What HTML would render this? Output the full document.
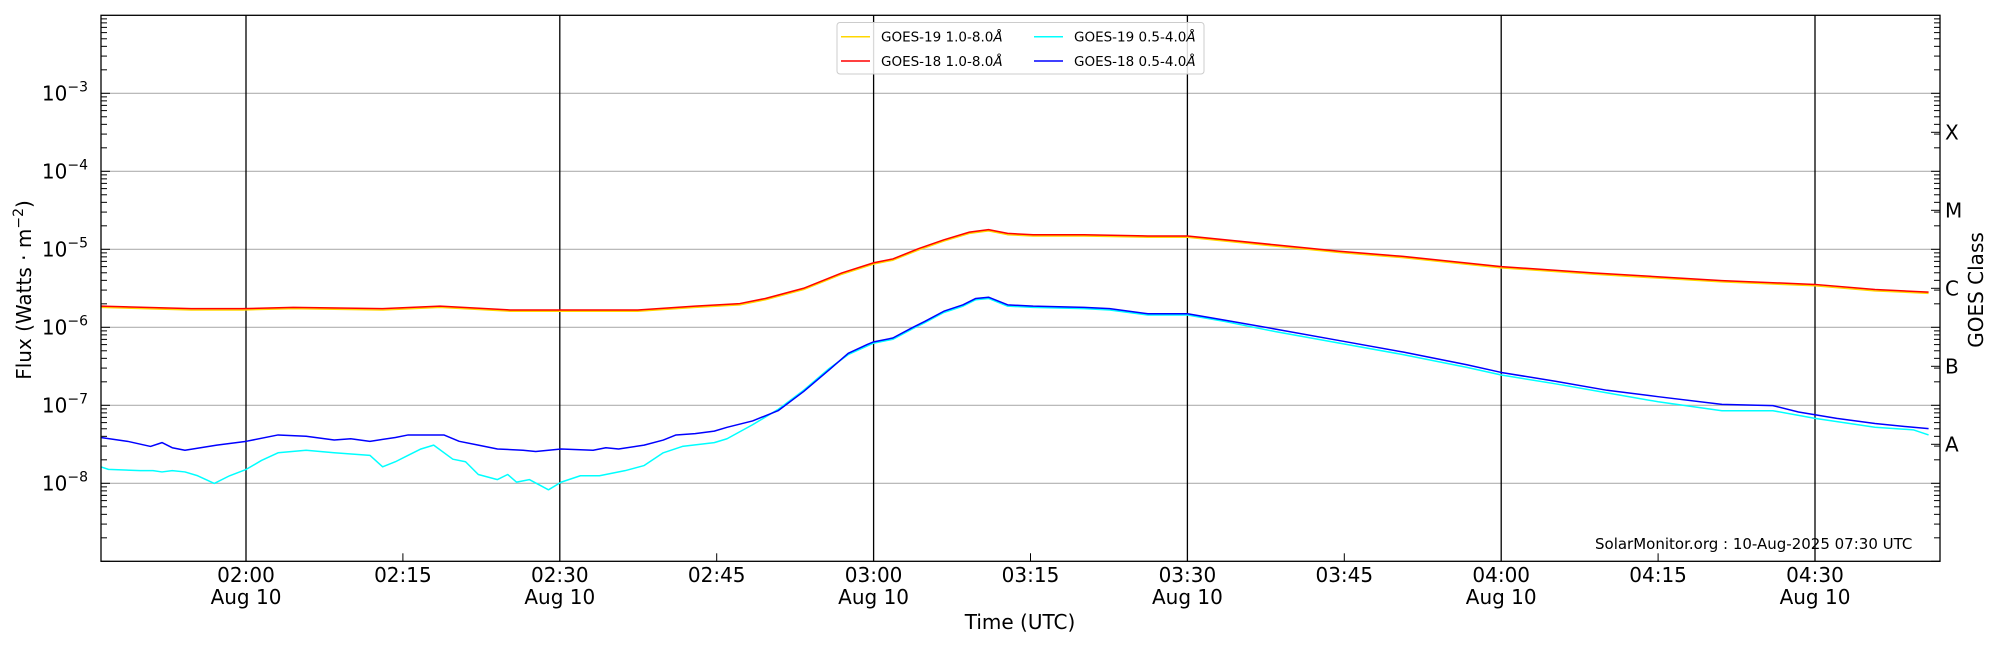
<!DOCTYPE html>
<html><head><meta charset="utf-8"><style>
html,body{margin:0;padding:0;background:#fff;}
svg{display:block;font-family:"DejaVu Sans","Liberation Sans",sans-serif;}
</style></head><body>
<svg id="s" width="2000" height="650" viewBox="0 0 2000 650" xmlns="http://www.w3.org/2000/svg">
<g id="grid"></g>
<g transform="scale(1.27551)" fill="none" stroke-width="1.5" stroke-linejoin="round">
<polyline vector-effect="non-scaling-stroke" stroke="#ffd700" points="79,241 150,243 190,243 230,242 300,243 345,241 400,244 440,244 500,244 545,241 580,239 600,235 630,227 660,215 685,207 700,204 720,196 740,189 760,183 775,181 790,184 810,185 850,185 900,186 931,186 1000,193 1050,198 1100,202 1177,210 1250,215 1350,221 1423,224 1470,228 1512,230"/>
<polyline vector-effect="non-scaling-stroke" stroke="#ff0000" points="79,240 150,242 190,242 230,241 300,242 345,240 400,243 440,243 500,243 545,240 580,238 600,234 630,226 660,214 685,206 700,203 720,195 740,188 760,182 775,180 790,183 810,184 850,184 900,185 931,185 1000,192 1050,197 1100,201 1177,209 1250,214 1350,220 1423,223 1470,227 1512,229"/>
<polyline vector-effect="non-scaling-stroke" stroke="#00ffff" points="79,366 85,368 110,369 120,369 127,370 135,369 145,370 155,373 168,379 180,373 193,368 205,361 218,355 240,353 262,355 290,357 300,366 310,362 320,357 330,352 340,349 355,360 365,362 375,372 390,376 398,372 405,378 415,376 430,384 440,378 455,373 470,373 490,369 505,365 520,355 535,350 560,347 570,344 590,333 610,321 630,306 650,289 665,278 685,269 700,266 715,258 725,253 740,245 755,240 765,235 775,234 790,240 810,241 850,242 870,243 900,247 931,247 960,252 1000,260 1050,269 1100,278 1150,288 1177,294 1220,301 1260,308 1300,315 1350,322 1390,322 1423,328 1470,335 1500,337 1512,341"/>
<polyline vector-effect="non-scaling-stroke" stroke="#0000ff" points="79,343 100,346 118,350 127,347 135,351 145,353 170,349 193,346 218,341 240,342 262,345 275,344 290,346 310,343 320,341 348,341 360,346 375,349 390,352 410,353 420,354 440,352 465,353 475,351 485,352 505,349 520,345 530,341 545,340 560,338 570,335 590,330 610,322 630,307 650,290 665,277 680,270 685,268 700,265 715,257 725,252 740,244 755,239 765,234 775,233 790,239 810,240 850,241 870,242 900,246 931,246 960,251 1000,258 1050,267 1100,276 1150,286 1177,292 1220,299 1260,306 1300,311 1350,317 1390,318 1410,323 1440,328 1470,332 1500,335 1512,336"/>
</g>
<rect x="101" y="15.3" width="1839" height="546" fill="none" stroke="#000" stroke-width="1.3"/>
<g id="lbl" font-size="20" fill="#000"></g>
<rect x="837" y="22.5" width="367" height="51.5" rx="3" fill="#fff" fill-opacity="0.85" stroke="#ccc" stroke-width="1"/>
<line x1="841" y1="36.7" x2="870" y2="36.7" stroke="#ffd700" stroke-width="1.5"/>
<line x1="841" y1="61" x2="870" y2="61" stroke="#ff0000" stroke-width="1.5"/>
<line x1="1034" y1="36.7" x2="1063" y2="36.7" stroke="#00ffff" stroke-width="1.5"/>
<line x1="1034" y1="61" x2="1063" y2="61" stroke="#0000ff" stroke-width="1.5"/>
<g font-size="13.5" fill="#000">
<text x="881" y="41.5">GOES-19 1.0-8.0<tspan font-style="italic">Å</tspan></text>
<text x="881" y="65.8">GOES-18 1.0-8.0<tspan font-style="italic">Å</tspan></text>
<text x="1074" y="41.5">GOES-19 0.5-4.0<tspan font-style="italic">Å</tspan></text>
<text x="1074" y="65.8">GOES-18 0.5-4.0<tspan font-style="italic">Å</tspan></text>
</g>
<text x="1595" y="549" font-size="15" fill="#000">SolarMonitor.org : 10-Aug-2025 07:30 UTC</text>
<text x="1020" y="629" font-size="20" text-anchor="middle">Time (UTC)</text>
<text transform="translate(31,290) rotate(-90)" font-size="20" text-anchor="middle">Flux (Watts · m<tspan dy="-8" font-size="14">−2</tspan><tspan dy="8">)</tspan></text>
<text transform="translate(1983,290) rotate(-90)" font-size="20" text-anchor="middle">GOES Class</text>
</svg>
<script>
(function(){
var NS="http://www.w3.org/2000/svg",g=document.getElementById('grid'),L=document.getElementById('lbl');
function el(p,t,a,txt){var e=document.createElementNS(NS,t);for(var k in a)e.setAttribute(k,a[k]);if(txt)e.textContent=txt;p.appendChild(e);return e;}
var top=15.3,dec=78,left=101,right=1940,bot=561.3;
function Y(l){return top+(-2-l)*dec;}
for(var e=-8;e<=-3;e++){el(g,'line',{x1:left,x2:right,y1:Y(e),y2:Y(e),stroke:'#b0b0b0','stroke-width':1.2});}
for(var e=-9;e<-2;e++){for(var m=1;m<10;m++){var y=Y(e+Math.log10(m));if(y<top-0.5||y>bot+0.5)continue;var len=m==1?9:6;
el(g,'line',{x1:left,x2:left+len,y1:y,y2:y,stroke:'#000','stroke-width':1});
el(g,'line',{x1:right-len,x2:right,y1:y,y2:y,stroke:'#000','stroke-width':1});}}
for(var e=-8;e<=-3;e++){var t=el(L,'text',{x:88,y:Y(e)+7,'text-anchor':'end'});
t.textContent='10';var s=el(t,'tspan',{dy:-9,'font-size':14});s.textContent='−'+(-e);}
var cls=['A','B','C','M','X'];
for(var i=0;i<5;i++){var y=Y(-7.5+i);el(g,'line',{x1:right-9,x2:right,y1:y,y2:y,stroke:'#000','stroke-width':1});
el(L,'text',{x:1945,y:y+7},cls[i]);}
var x0=246,pm=313.8/30;
var times=[['02:00',0,1],['02:15',15,0],['02:30',30,1],['02:45',45,0],['03:00',60,1],['03:15',75,0],['03:30',90,1],['03:45',105,0],['04:00',120,1],['04:15',135,0],['04:30',150,1]];
times.forEach(function(t){var x=x0+t[1]*pm;
if(t[2])el(g,'line',{x1:x,x2:x,y1:top,y2:bot,stroke:'#000','stroke-width':1.3});
else el(g,'line',{x1:x,x2:x,y1:bot-8,y2:bot,stroke:'#000','stroke-width':1});
el(L,'text',{x:x,y:582,'text-anchor':'middle'},t[0]);
if(t[2])el(L,'text',{x:x,y:604,'text-anchor':'middle'},'Aug 10');});
})();
</script>
</body></html>
